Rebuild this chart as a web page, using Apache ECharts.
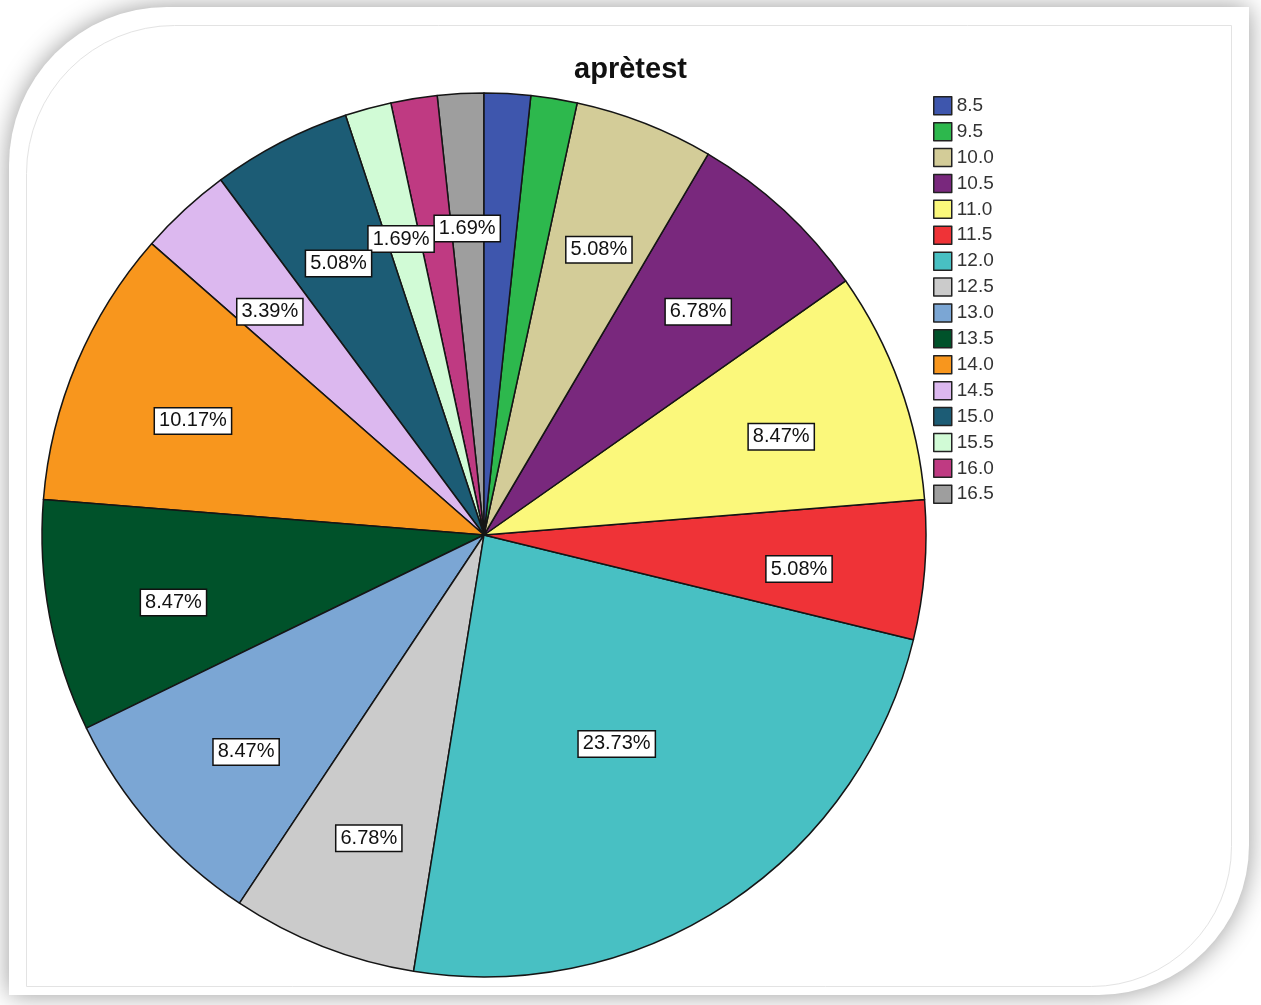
<!DOCTYPE html>
<html>
<head>
<meta charset="utf-8">
<script src="https://cdn.jsdelivr.net/npm/echarts@6/dist/echarts.min.js"></script>
<style>
html, body { margin: 0; padding: 0; background: #ffffff; }
#c { width: 1261px; height: 1005px; }
</style>
</head>
<body>
<div id="c"></div>
<script>
// ---- data ----
const chartTitle = 'aprètest';
const categories = ['8.5', '9.5', '10.0', '10.5', '11.0', '11.5', '12.0', '12.5',
                    '13.0', '13.5', '14.0', '14.5', '15.0', '15.5', '16.0', '16.5'];
const percents = [1.69, 1.69, 5.08, 6.78, 8.47, 5.08, 23.73, 6.78,
                  8.47, 8.47, 10.17, 3.39, 5.08, 1.69, 1.69, 1.69];
const colors = ['#3e56ad', '#2db84d', '#d3cc98', '#79287d', '#fbf87b', '#ef3337', '#48c0c3', '#cbcbcb',
                '#7ba6d4', '#00522a', '#f8961d', '#dcb8ef', '#1c5c75', '#d1fbd6', '#bf3a82', '#9e9e9e'];
const hiddenLabels = ['8.5', '9.5', '16.0'];

// ---- layout ----
const CX = 484, CY = 535, R = 442;
const LABEL_R = 316, LABEL_R_BIG = 240, LABEL_DY = 9;

const chart = echarts.init(document.getElementById('c'), null, { renderer: 'canvas' });

// reversed order drawn counter-clockwise so that labels stack like the original
const order = categories.map((_, i) => i).reverse();
const pieData = order.map(i => ({
  name: categories[i],
  value: percents[i],
  itemStyle: { color: colors[i] },
  label: { show: hiddenLabels.indexOf(categories[i]) < 0 }
}));

const option = {
  animation: false,
  backgroundColor: '#ffffff',
  title: {
    text: chartTitle,
    left: 'center',
    top: 55,
    padding: 0,
    textStyle: { fontFamily: 'Liberation Sans', fontWeight: 'bold', fontSize: 29, color: '#111' }
  },
  legend: {
    data: categories,
    orient: 'vertical',
    left: 933,
    top: 96,
    padding: 0,
    itemWidth: 18,
    itemHeight: 18,
    itemGap: 6.4,
    icon: 'rect',
    selectedMode: false,
    itemStyle: { borderColor: '#222', borderWidth: 1.5 },
    textStyle: { fontFamily: 'Liberation Sans', fontSize: 19, lineHeight: 18, color: '#333' }
  },
  graphic: [
    {
      type: 'rect', z: -10, silent: true,
      shape: { x: 9, y: 7, width: 1240, height: 988, r: [158, 0, 150, 0] },
      style: { fill: '#ffffff', shadowBlur: 26, shadowColor: 'rgba(0,0,0,0.4)' }
    },
    {
      type: 'rect', z: -9, silent: true,
      shape: { x: 26.5, y: 25.5, width: 1205, height: 961, r: [148, 0, 140, 0] },
      style: { fill: 'none', stroke: '#e3e3e3', lineWidth: 1 }
    }
  ],
  series: [{
    type: 'pie',
    center: [CX, CY],
    radius: [0, R],
    startAngle: 90,
    clockwise: false,
    silent: true,
    emphasis: { disabled: true },
    itemStyle: { borderColor: '#151515', borderWidth: 1.5 },
    labelLine: { show: false },
    label: {
      position: 'inside',
      formatter: p => p.value.toFixed(2) + '%',
      fontFamily: 'Liberation Sans',
      fontSize: 20,
      color: '#111',
      backgroundColor: '#ffffff',
      borderColor: '#111',
      borderWidth: 1.5,
      padding: [3, 4, 2, 4]
    },
    labelLayout: function (p) {
      const r = p.labelRect;
      const lx = r.x + r.width / 2, ly = r.y + r.height / 2;
      const vx = lx - CX, vy = ly - CY;
      const d = Math.hypot(vx, vy) || 1;
      const target = pieData[p.dataIndex].name === '12.0' ? LABEL_R_BIG : LABEL_R;
      const k = target / d - 1;
      return { dx: vx * k, dy: vy * k + LABEL_DY };
    },
    data: pieData
  }]
};

chart.setOption(option);
</script>
</body>
</html>
